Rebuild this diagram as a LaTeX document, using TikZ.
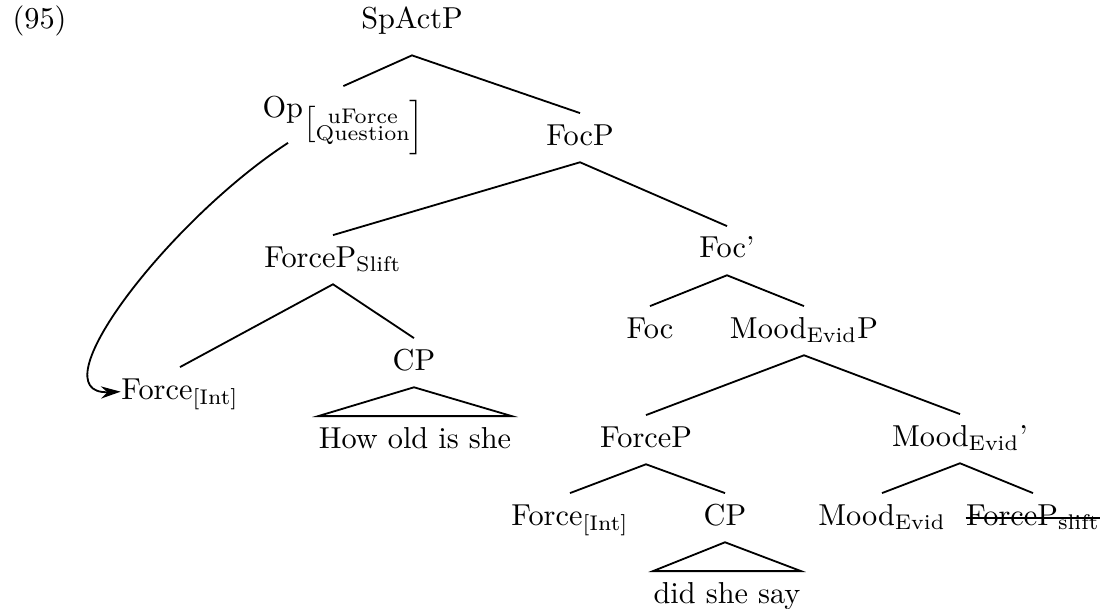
\documentclass[tikz,border=0pt]{standalone}
\usetikzlibrary{arrows.meta}
\begin{document}
\begin{tikzpicture}[x=0.33pt,y=-0.33pt,
  lbl/.style={inner xsep=0pt,inner ysep=3.5pt,text height=6.83pt,text depth=2pt,anchor=base},
  edge/.style={line width=0.6pt},
  mv/.style={-{Stealth[length=6.5pt,width=4pt]},line width=0.6pt},
  strike/.style={line width=0.6pt}]
\useasboundingbox (0,0) rectangle (1107,609);
% labels
\node[lbl,anchor=base west] (n95) at (12,29) {(95)};
\node[lbl] (sp) at (412,29) {SpActP};
\node[lbl,anchor=base west] (op) at (262,118) {Op\raisebox{-4.8pt}{$\bigl[$\scriptsize\begin{tabular}{@{}c@{}}uForce\\[-2.2pt]Question\end{tabular}$\bigr]$}};
\node[lbl] (focp) at (580,145) {FocP};
\node[lbl] (forceS) at (333,267) {ForceP\textsubscript{Slift}};
\node[lbl] (focbar) at (727,258) {Foc'};
\node[lbl] (forceL) at (180,399) {Force\textsubscript{[Int]}};
\node[lbl] (cpL) at (414,370) {CP};
\node[lbl] (howold) at (415,448) {How old is she};
\node[lbl] (foc) at (650,338) {Foc};
\node[lbl] (moodP) at (804,338) {Mood\textsubscript{Evid}P};
\node[lbl] (forceP) at (646,447) {ForceP};
\node[lbl] (moodbar) at (960,446) {Mood\textsubscript{Evid}'};
\node[lbl] (forceR) at (570,525) {Force\textsubscript{[Int]}};
\node[lbl] (cpR) at (725,525) {CP};
\node[lbl] (didsay) at (727,603) {did she say};
\node[lbl] (mood) at (882,525) {Mood\textsubscript{Evid}};
\node[lbl] (fps) at (1033,525) {ForceP\textsubscript{slift}};
% edges
\draw[edge] (op.north) -- ([yshift=-3pt]sp.south) -- (focp.north);
\draw[edge] (forceS.north) -- (focp.south) -- (focbar.north);
\draw[edge] (forceL.north) -- (forceS.south) -- (cpL.north);
\draw[edge] (cpL.south) -- (howold.north west) -- (howold.north east) -- cycle;
\draw[edge] (foc.north) -- (focbar.south) -- (moodP.north);
\draw[edge] (forceP.north) -- (moodP.south) -- (moodbar.north);
\draw[edge] (forceR.north) -- (forceP.south) -- (cpR.north);
\draw[edge] (cpR.south) -- (didsay.north west) -- (didsay.north east) -- cycle;
\draw[edge] (mood.north) -- (moodbar.south) -- (fps.north);
% strike-out
\draw[strike] ([yshift=2.3pt]fps.base west) -- ([yshift=2.3pt]fps.base east);
% movement arrow
\draw[mv] ([xshift=8.6pt,yshift=-8.2pt]op.base west) .. controls (168,221) and (35,395) .. (forceL.west);
\end{tikzpicture}
\end{document}
